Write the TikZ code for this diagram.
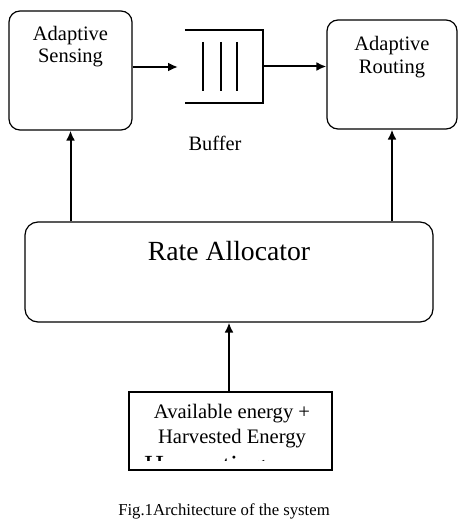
\documentclass[tikz,border=0pt]{standalone}
\usepackage{fontspec}
\setmainfont{Liberation Serif}
\usetikzlibrary{arrows.meta}

\tikzset{
  roundbox/.style={draw, line width=1.2pt, rounded corners=11pt, inner sep=0pt},
  plainbox/.style={draw, line width=2.6pt, inner sep=0pt},
  boxtext/.style={align=center, inner sep=0pt},
  flow/.style={line width=2pt, -{Latex[length=10pt,width=9pt]}},
}

\begin{document}
\begin{tikzpicture}[x=1pt, y=-1pt]
            % Frame to fix the page size:
            \useasboundingbox                                                  (0,0) rectangle (465,524);
            % Top row
            \node[roundbox, minimum width=123pt, minimum height=119pt] (sensing) at ( 70.5, 70.5) {};
            \node[roundbox, minimum width=130pt, minimum height=109pt] (routing) at (392.0, 74.5) {};
            \node[inner sep=0pt, minimum width=78pt, minimum height=73pt] (buffer) at (224.0, 66.5) {};
            \node[boxtext, anchor=base, font=\fontsize{20.5}{22}\selectfont] (sensingtxt) at ( 70.5, 63.0) {Adaptive\\Sensing};
            \node[boxtext, anchor=base, font=\fontsize{20.5}{23}\selectfont] (routingtxt) at (392.0, 74.0) {Adaptive\\Routing};
            \node[anchor=base, inner sep=0pt, font=\fontsize{20.4}{22}\selectfont] (buffertxt) at (215.0,150.0) {Buffer};
            \coordinate (bufin) at (178.0, 67.0);
            % Buffer queue
            \draw[line width=1.6pt] (buffer.north west) -- (buffer.north east) -- (buffer.south east) -- (buffer.south west);
            \foreach \qx in {203,221,237}
                \draw[line width=1.6pt]                                        (\qx, 42) -- (\qx, 91);
            % Rate allocator
            \node[roundbox, rounded corners=13pt, minimum width=408pt, minimum height=100pt] (rate) at (229.0,272.0) {};
            \node[anchor=base, inner sep=0pt, font=\fontsize{27.7}{30}\selectfont] (ratetxt) at (229.0,260.0) {Rate Allocator};
            % Energy source
            \node[plainbox, minimum width=203pt, minimum height=78pt] (energy) at (230.5,431.0) {};
            \node[boxtext, anchor=base, font=\fontsize{20.6}{25}\selectfont] (energytxt) at (232.0,443.0) {Available energy +\\Harvested Energy};
            \begin{scope}
                \clip (energy.north west) rectangle ([yshift=11pt]energy.south east);
                \node[anchor=base west, inner sep=0pt, font=\fontsize{27.7}{30}\selectfont] (energycut) at (144.0,474.0) {Harvesting};
            \end{scope}
            % Connectors
            \draw[flow] (sensing.east |- bufin)  -- (bufin);
            \draw[flow] (buffer.east)            -- (routing.west |- buffer.east);
            \draw[flow] (rate.north -| sensing)  -- (sensing.south);
            \draw[flow] (rate.north -| routing)  -- (routing.south);
            \draw[flow] (energy.north -| rate)   -- (rate.south);
            % Caption
            \node[anchor=base, inner sep=0pt, font=\fontsize{16.7}{18}\selectfont] (caption) at (224.0,515.0) {Fig.1Architecture of the system};
\end{tikzpicture}
\end{document}
